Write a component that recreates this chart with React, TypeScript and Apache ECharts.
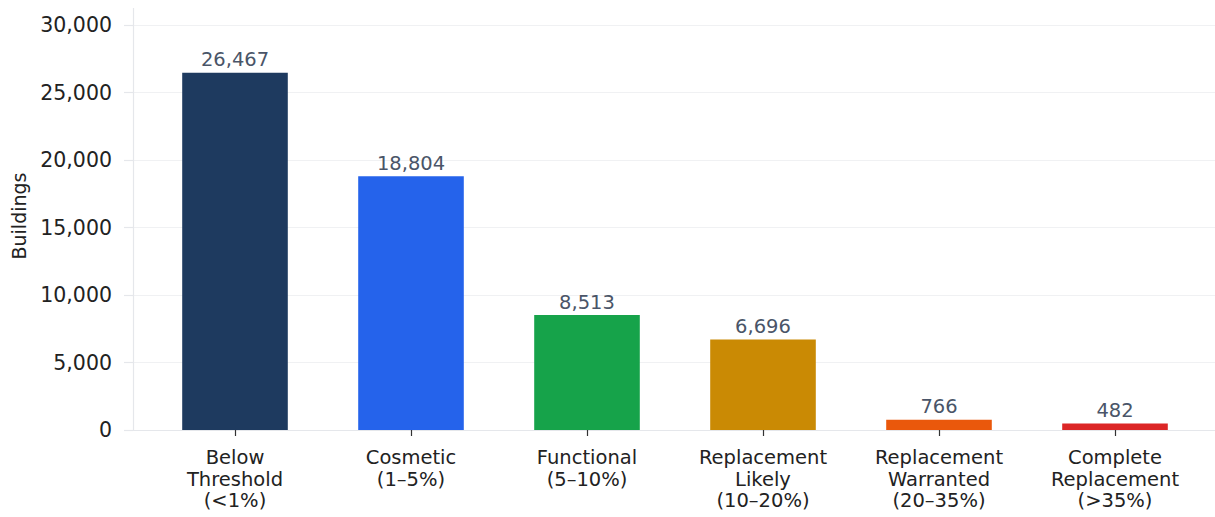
import React, { useEffect, useRef } from "react";
import * as echarts from "echarts";

const categories = [
  "Below\nThreshold\n(<1%)",
  "Cosmetic\n(1–5%)",
  "Functional\n(5–10%)",
  "Replacement\nLikely\n(10–20%)",
  "Replacement\nWarranted\n(20–35%)",
  "Complete\nReplacement\n(>35%)",
];
const values = [26467, 18804, 8513, 6696, 766, 482];
const colors = ["#1e3a5f", "#2563eb", "#16a34a", "#ca8a04", "#ea580c", "#dc2626"];
const yTicks = [0, 5000, 10000, 15000, 20000, 25000, 30000];

const FONT = "DejaVu Sans";
const fmt = (v: number) => v.toLocaleString("en-US");

export default function App() {
  const ref = useRef<HTMLDivElement>(null);
  useEffect(() => {
    const chart = echarts.init(ref.current!, null, { renderer: "svg" });
    const top = 25;
    const bottom = 517 - 430;
    chart.setOption({
      animation: false,
      backgroundColor: "#ffffff",
      textStyle: { fontFamily: FONT },
      grid: [
        { left: 133, right: 0, top, bottom },
        { left: 147, right: 12, top, bottom },
      ],
      xAxis: [
        {
          gridIndex: 0,
          type: "value",
          min: 0,
          max: 1,
          axisLine: { show: true, lineStyle: { color: "#e5e7eb", width: 1.2 } },
          axisTick: { show: false },
          axisLabel: { show: false },
          splitLine: { show: false },
        },
        {
          gridIndex: 1,
          type: "category",
          data: categories,
          axisLine: { show: false },
          axisTick: { show: true, alignWithLabel: true, length: 6, lineStyle: { color: "#333333", width: 1.2 } },
          axisLabel: {
            margin: 17,
            fontSize: 19.5,
            lineHeight: 21.5,
            color: "#222222",
            fontFamily: FONT,
            interval: 0,
          },
        },
      ],
      yAxis: [
        {
          gridIndex: 0,
          type: "value",
          min: yTicks[0],
          max: yTicks[yTicks.length - 1],
          interval: 5000,
          axisLine: { show: false },
          axisTick: { show: true, length: 9, lineStyle: { color: "#e5e7eb", width: 1.2 } },
          axisLabel: { margin: 21, fontSize: 20.5, color: "#222222", fontFamily: FONT, formatter: (v: number) => fmt(v) },
          splitLine: { show: true, lineStyle: { color: "#f0f1f3", width: 1.2 } },
        },
        {
          gridIndex: 1,
          type: "value",
          min: yTicks[0],
          max: yTicks[yTicks.length - 1],
          interval: 5000,
          axisLine: { show: false },
          axisTick: { show: false },
          axisLabel: { show: false },
          splitLine: { show: false },
        },
      ],
      graphic: [
        {
          type: "line",
          shape: { x1: 133.5, y1: 8, x2: 133.5, y2: 430.5 },
          style: { stroke: "#e5e7eb", lineWidth: 1.2 },
          z: 10,
        },
        {
          type: "text",
          x: 19,
          y: 216,
          rotation: Math.PI / 2,
          style: {
            text: "Buildings",
            fontSize: 19,
            fontFamily: FONT,
            fill: "#222222",
            align: "center",
            verticalAlign: "middle",
          },
        },
      ],
      series: [
        {
          type: "bar",
          xAxisIndex: 1,
          yAxisIndex: 1,
          barWidth: "60%",
          data: values.map((v, i) => ({ value: v, itemStyle: { color: colors[i] } })),
          label: {
            show: true,
            position: "top",
            distance: 3,
            fontSize: 19.5,
            color: "#4a5568",
            fontFamily: FONT,
            formatter: (p: any) => fmt(p.value),
          },
        },
      ],
    });
    return () => chart.dispose();
  }, []);
  return <div ref={ref} style={{ width: 1215, height: 517, position: "absolute", left: 0, top: 0 }} />;
}
